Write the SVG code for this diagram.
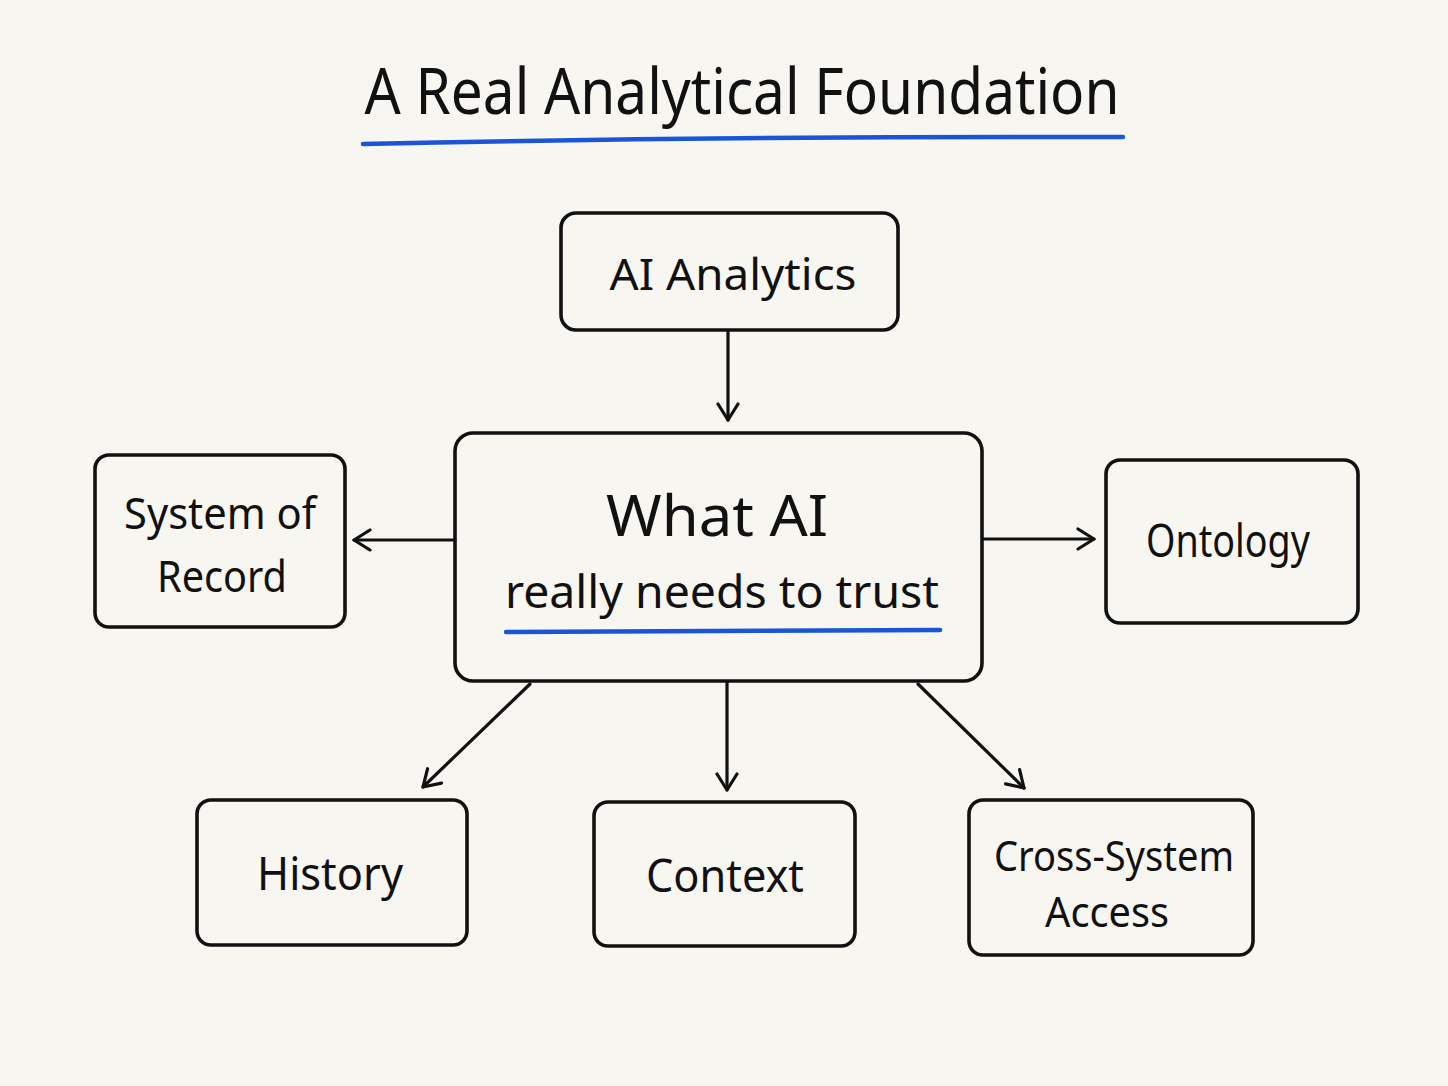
<svg xmlns="http://www.w3.org/2000/svg" width="1448" height="1086" viewBox="0 0 1448 1086">
<defs>
<style>
.box{fill:none;stroke:#111;stroke-width:3.6}
.t{font-family:"Noto Sans","Liberation Sans",sans-serif;fill:#111;text-anchor:middle}
.c{stroke:#111;stroke-width:3.2;fill:none;stroke-linecap:round}
.u{stroke:#1a55d8;stroke-width:4.5;fill:none;stroke-linecap:round}
</style>
<marker id="ah" viewBox="0 0 24 24" refX="20" refY="12" markerWidth="24" markerHeight="24" markerUnits="userSpaceOnUse" orient="auto">
<path d="M4 2 L20 12 L4 22" fill="none" stroke="#111" stroke-width="3.2" stroke-linecap="round" stroke-linejoin="round"/>
</marker>
</defs>
<rect width="1448" height="1086" fill="#f8f6f1"/>
<g id="title">
<text class="t" x="742" y="114" font-size="64" textLength="755" lengthAdjust="spacingAndGlyphs">A Real Analytical Foundation</text>
<path class="u" d="M363 144 Q740 136 1123 137"/>
</g>
<g id="connectors">
<line class="c" x1="728" y1="331" x2="728" y2="420" marker-end="url(#ah)"/>
<line class="c" x1="455" y1="540" x2="354" y2="540" marker-end="url(#ah)"/>
<line class="c" x1="983" y1="539" x2="1094" y2="539" marker-end="url(#ah)"/>
<line class="c" x1="530" y1="684" x2="423" y2="787" marker-end="url(#ah)"/>
<line class="c" x1="727" y1="682" x2="727" y2="790" marker-end="url(#ah)"/>
<line class="c" x1="918" y1="684" x2="1024" y2="788" marker-end="url(#ah)"/>
</g>
<g id="ai-analytics">
<rect class="box" x="561" y="213" width="337" height="117" rx="15"/>
<text class="t" x="733" y="290" font-size="44" textLength="247" lengthAdjust="spacingAndGlyphs">AI Analytics</text>
</g>
<g id="center">
<rect class="box" x="455" y="433" width="527" height="248" rx="18"/>
<text class="t" x="717" y="536" font-size="56" textLength="222" lengthAdjust="spacingAndGlyphs">What AI</text>
<text class="t" x="722" y="608" font-size="46" textLength="434" lengthAdjust="spacingAndGlyphs">really needs to trust</text>
<path class="u" d="M506 632 L940 630"/>
</g>
<g id="system-of-record">
<rect class="box" x="95" y="455" width="250" height="172" rx="14"/>
<text class="t" x="220" y="529" font-size="44" textLength="192" lengthAdjust="spacingAndGlyphs">System of</text>
<text class="t" x="222" y="592" font-size="44" textLength="130" lengthAdjust="spacingAndGlyphs">Record</text>
</g>
<g id="ontology">
<rect class="box" x="1106" y="460" width="252" height="163" rx="14"/>
<text class="t" x="1228" y="557" font-size="46" textLength="164" lengthAdjust="spacingAndGlyphs">Ontology</text>
</g>
<g id="history">
<rect class="box" x="197" y="800" width="270" height="145" rx="14"/>
<text class="t" x="330" y="890" font-size="46" textLength="146" lengthAdjust="spacingAndGlyphs">History</text>
</g>
<g id="context">
<rect class="box" x="594" y="802" width="261" height="144" rx="14"/>
<text class="t" x="725" y="892" font-size="46" textLength="158" lengthAdjust="spacingAndGlyphs">Context</text>
</g>
<g id="cross-system">
<rect class="box" x="969" y="800" width="284" height="155" rx="14"/>
<text class="t" x="1114" y="871" font-size="42" textLength="240" lengthAdjust="spacingAndGlyphs">Cross-System</text>
<text class="t" x="1107" y="927" font-size="42" textLength="124" lengthAdjust="spacingAndGlyphs">Access</text>
</g>
</svg>
